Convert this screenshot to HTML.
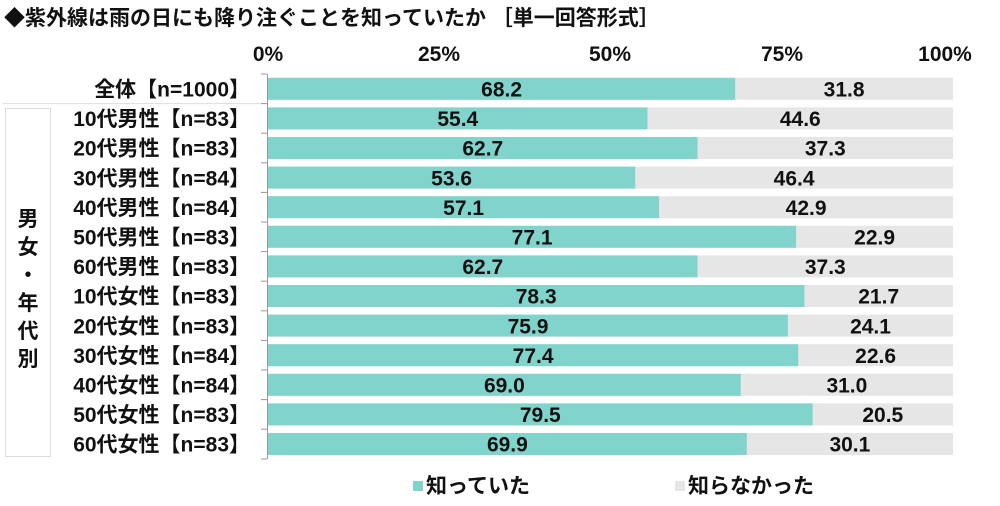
<!DOCTYPE html>
<html><head><meta charset="utf-8"><style>
body{margin:0;background:#fff;width:1000px;height:501px;overflow:hidden;}
</style></head><body>
<svg width="1000" height="501" xmlns="http://www.w3.org/2000/svg" font-family="Liberation Sans, Noto Sans CJK JP, sans-serif">
<text x="4" y="25" font-size="21" font-weight="bold" fill="#111">◆紫外線は雨の日にも降り注ぐことを知っていたか ［単一回答形式］</text>
<g font-size="21" font-weight="bold" fill="#111" text-anchor="middle">
<text x="268" y="61">0%</text><text x="439" y="61">25%</text><text x="610" y="61">50%</text><text x="782" y="61">75%</text><text x="945" y="61">100%</text>
</g>
<line x1="3" y1="103.6" x2="265" y2="103.6" stroke="#ddd"/>
<rect x="5.5" y="108.5" width="45" height="348" fill="none" stroke="#ddd"/>
<g font-size="21" font-weight="bold" fill="#111" text-anchor="middle">
<text x="28" y="226">男</text><text x="28" y="254">女</text><text x="28" y="282">・</text><text x="28" y="310">年</text><text x="28" y="338">代</text><text x="28" y="366">別</text>
</g>
<g fill="#e6e6e6">
<rect x="268" y="77.8" width="685" height="22"/><rect x="268" y="107.4" width="685" height="22"/><rect x="268" y="137" width="685" height="22"/><rect x="268" y="166.6" width="685" height="22"/><rect x="268" y="196.2" width="685" height="22"/><rect x="268" y="225.8" width="685" height="22"/><rect x="268" y="255.4" width="685" height="22"/><rect x="268" y="285" width="685" height="22"/><rect x="268" y="314.6" width="685" height="22"/><rect x="268" y="344.2" width="685" height="22"/><rect x="268" y="373.8" width="685" height="22"/><rect x="268" y="403.4" width="685" height="22"/><rect x="268" y="433" width="685" height="22"/>
</g>
<g fill="#80d4cc">
<rect x="268" y="77.8" width="467.2" height="22"/><rect x="268" y="107.4" width="379.5" height="22"/><rect x="268" y="137" width="429.5" height="22"/><rect x="268" y="166.6" width="367.2" height="22"/><rect x="268" y="196.2" width="391.1" height="22"/><rect x="268" y="225.8" width="528.1" height="22"/><rect x="268" y="255.4" width="429.5" height="22"/><rect x="268" y="285" width="536.4" height="22"/><rect x="268" y="314.6" width="519.9" height="22"/><rect x="268" y="344.2" width="530.2" height="22"/><rect x="268" y="373.8" width="472.7" height="22"/><rect x="268" y="403.4" width="544.6" height="22"/><rect x="268" y="433" width="478.8" height="22"/>
</g>
<g font-size="21" font-weight="bold" fill="#111" text-anchor="middle">
<text x="501.6" y="96.5">68.2</text><text x="844.1" y="96.5">31.8</text>
<text x="457.8" y="126.1">55.4</text><text x="800.3" y="126.1">44.6</text>
<text x="482.8" y="155.7">62.7</text><text x="825.3" y="155.7">37.3</text>
<text x="451.6" y="185.3">53.6</text><text x="794.1" y="185.3">46.4</text>
<text x="463.6" y="214.9">57.1</text><text x="806.1" y="214.9">42.9</text>
<text x="532.1" y="244.5">77.1</text><text x="874.6" y="244.5">22.9</text>
<text x="482.8" y="274.1">62.7</text><text x="825.3" y="274.1">37.3</text>
<text x="536.2" y="303.7">78.3</text><text x="878.7" y="303.7">21.7</text>
<text x="528" y="333.3">75.9</text><text x="870.5" y="333.3">24.1</text>
<text x="533.1" y="362.9">77.4</text><text x="875.6" y="362.9">22.6</text>
<text x="504.4" y="392.5">69.0</text><text x="846.9" y="392.5">31.0</text>
<text x="540.3" y="422.1">79.5</text><text x="882.8" y="422.1">20.5</text>
<text x="507.4" y="451.7">69.9</text><text x="849.9" y="451.7">30.1</text>
</g>
<g font-size="21" font-weight="bold" fill="#111" text-anchor="end">
<text x="250" y="96.5">全体【n=1000】</text>
<text x="250" y="126.1">10代男性【n=83】</text>
<text x="250" y="155.7">20代男性【n=83】</text>
<text x="250" y="185.3">30代男性【n=84】</text>
<text x="250" y="214.9">40代男性【n=84】</text>
<text x="250" y="244.5">50代男性【n=83】</text>
<text x="250" y="274.1">60代男性【n=83】</text>
<text x="250" y="303.7">10代女性【n=83】</text>
<text x="250" y="333.3">20代女性【n=83】</text>
<text x="250" y="362.9">30代女性【n=84】</text>
<text x="250" y="392.5">40代女性【n=84】</text>
<text x="250" y="422.1">50代女性【n=83】</text>
<text x="250" y="451.7">60代女性【n=83】</text>
</g>
<g stroke="#999">
<line x1="267.5" y1="74" x2="267.5" y2="459"/>
<line x1="261" y1="74" x2="267" y2="74"/><line x1="261" y1="103.6" x2="267" y2="103.6"/><line x1="261" y1="133.2" x2="267" y2="133.2"/><line x1="261" y1="162.8" x2="267" y2="162.8"/><line x1="261" y1="192.4" x2="267" y2="192.4"/><line x1="261" y1="222" x2="267" y2="222"/><line x1="261" y1="251.6" x2="267" y2="251.6"/><line x1="261" y1="281.2" x2="267" y2="281.2"/><line x1="261" y1="310.8" x2="267" y2="310.8"/><line x1="261" y1="340.4" x2="267" y2="340.4"/><line x1="261" y1="370" x2="267" y2="370"/><line x1="261" y1="399.6" x2="267" y2="399.6"/><line x1="261" y1="429.2" x2="267" y2="429.2"/><line x1="261" y1="459" x2="267" y2="459"/>
</g>
<rect x="413" y="481" width="10" height="10" fill="#80d4cc"/>
<text x="426" y="493" font-size="21" font-weight="bold" fill="#111">知っていた</text>
<rect x="675" y="481" width="10" height="10" fill="#e6e6e6"/>
<text x="688" y="493" font-size="21" font-weight="bold" fill="#111">知らなかった</text>
</svg>
</body></html>
